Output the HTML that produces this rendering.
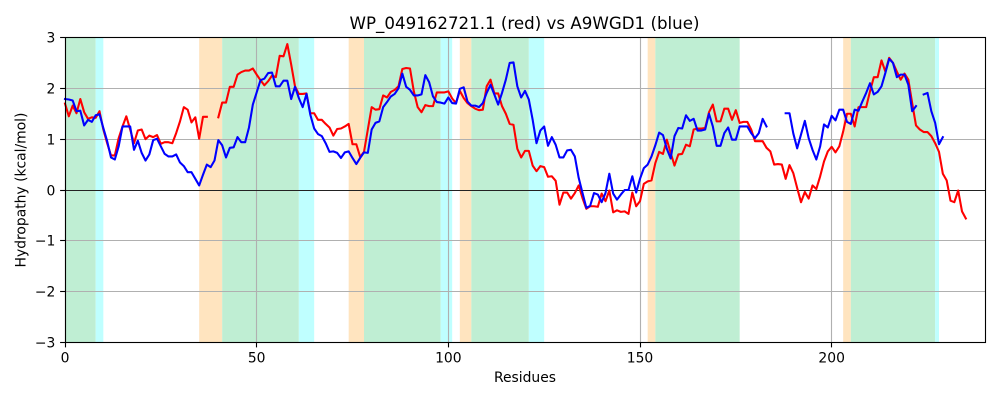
<!DOCTYPE html>
<html>
<head>
<meta charset="utf-8">
<title>Hydropathy chart</title>
<style>
html,body{margin:0;padding:0;background:#fff;}
svg{display:block;}
text{font-family:"DejaVu Sans","Liberation Sans",sans-serif;fill:#000;}
</style>
</head>
<body>
<svg id="chart" xmlns="http://www.w3.org/2000/svg" width="1000" height="400" viewBox="0 0 1000 400">
  <g id="spans"></g>
  <g id="grid"></g>
  <g id="series"></g>
  <g id="axes"></g>
  <text x="524.5" y="29" text-anchor="middle" font-size="16.67">WP_049162721.1 (red) vs A9WGD1 (blue)</text>
  <text x="525" y="382" text-anchor="middle" font-size="13.89">Residues</text>
  <text x="0" y="0" transform="translate(25.5 190) rotate(-90)" text-anchor="middle" font-size="13.89">Hydropathy (kcal/mol)</text>
</svg>
<script>
const xTicks = [0, 50, 100, 150, 200];
const yTicks = [-3, -2, -1, 0, 1, 2, 3];
const xDomain = [0, 240];
const yDomain = [-3, 3];
const orangeSpans = [[35, 41], [74, 78], [103, 106], [152, 154], [203, 205]];
const greenSpans = [[0, 8], [41, 61], [78, 98], [106, 121], [154, 176], [205, 227]];
const cyanSpans = [[8, 10], [61, 65], [98, 101], [121, 125], [227, 228]];
const redValues = [
1.70,1.45,1.66,1.51,1.79,1.53,1.40,1.43,1.42,1.55,
1.19,.92,.68,.68,1.02,1.25,1.45,1.19,.92,1.17,
1.19,1.0,1.07,1.04,1.08,.91,.94,.94,.92,1.12,
1.35,1.63,1.58,1.33,1.43,1.01,1.44,1.44,null,null,
1.43,1.72,1.72,2.03,2.03,2.27,2.32,2.35,2.35,2.39,
2.27,2.16,2.06,2.14,2.25,2.22,2.64,2.63,2.87,2.47,
2.04,1.89,1.89,1.90,1.51,1.51,1.38,1.38,1.30,1.23,
1.07,1.20,1.21,1.25,1.30,.90,.90,.65,.75,1.19,
1.63,1.58,1.59,1.86,1.82,1.93,1.97,2.04,2.38,2.40,
2.39,1.94,1.63,1.53,1.67,1.65,1.65,1.92,1.92,1.92,
1.94,1.80,1.71,1.95,1.81,1.71,1.65,1.60,1.57,1.58,
2.04,2.17,1.90,1.90,1.65,1.50,1.30,1.28,.81,.64,
.77,.77,.48,.37,.47,.45,.26,.27,.18,-.29,
-.05,-.05,-.17,-.06,.09,-.16,-.37,-.32,-.32,-.33,
-.07,-.22,-.01,-.44,-.40,-.43,-.42,-.47,-.05,-.32,
-.22,.12,.17,.19,.53,.75,.71,.99,.73,.48,
.70,.71,.89,.86,1.19,1.21,1.21,1.22,1.53,1.68,
1.35,1.35,1.60,1.60,1.38,1.57,1.32,1.34,1.34,1.19,
.96,.96,.96,.83,.76,.50,.51,.50,.22,.49,
.33,.04,-.24,-.04,-.17,.09,.02,.27,.56,.76,
.85,.74,.86,1.15,1.50,1.50,1.25,1.63,1.63,1.63,
1.94,2.22,2.22,2.55,2.33,2.60,2.50,2.33,2.17,2.29,
2.17,1.71,1.27,1.19,1.14,1.14,1.06,.92,.75,.32,
.19,-.21,-.24,-.01,-.42,-.56];
const blueValues = [
1.79,1.78,1.76,1.55,1.56,1.27,1.38,1.34,1.47,1.49,
1.22,.96,.64,.60,.86,1.25,1.25,1.25,.79,.97,
.73,.58,.70,.98,1.01,.86,.71,.66,.66,.70,
.54,.47,.35,.35,.22,.09,.30,.50,.45,.58,
.98,.88,.64,.83,.84,1.04,.94,.94,1.23,1.68,
1.92,2.16,2.19,2.30,2.31,2.04,2.04,2.15,2.15,1.79,
2.03,1.81,1.63,1.89,1.48,1.21,1.10,1.06,.92,.75,
.76,.73,.63,.74,.76,.63,.51,.63,.74,.73,
1.19,1.32,1.35,1.63,1.73,1.84,1.89,2.0,2.29,2.03,
1.97,1.86,1.86,1.88,2.26,2.12,1.84,1.73,1.72,1.70,
1.82,1.71,1.70,1.99,2.02,1.74,1.66,1.66,1.63,1.71,
1.91,2.07,1.88,1.68,1.91,2.17,2.50,2.51,2.04,1.82,
1.95,1.78,1.38,.92,1.17,1.25,.87,1.04,.89,.64,
.64,.78,.79,.66,.24,-.06,-.35,-.31,-.06,-.09,
-.24,-.06,.32,-.07,-.19,-.09,0,0,.27,-.05,
.22,.43,.50,.66,.88,1.13,1.08,.81,.62,1.06,
1.22,1.21,1.47,1.36,1.40,1.17,1.17,1.19,1.50,1.25,
.87,.87,1.12,1.23,.99,.99,1.25,1.25,1.25,1.12,
1.02,1.12,1.40,1.25,null,null,null,null,1.51,1.51,
1.11,.82,1.09,1.36,1.02,.79,.60,.86,1.29,1.23,
1.46,1.37,1.58,1.58,1.34,1.30,1.58,1.56,1.74,1.91,
2.10,1.88,1.93,2.04,2.30,2.58,2.50,2.22,2.27,2.27,
2.07,1.55,1.65,null,1.88,1.91,1.55,1.32,.90,1.04];

const NS = 'http://www.w3.org/2000/svg';
const plotLeft = 65, plotRight = 985, plotTop = 37.5, plotBottom = 342.5;
function xScale(v) { return plotLeft + (v - xDomain[0]) / (xDomain[1] - xDomain[0]) * (plotRight - plotLeft); }
function yScale(v) { return plotBottom - (v - yDomain[0]) / (yDomain[1] - yDomain[0]) * (plotBottom - plotTop); }
function snap(p) { return Math.floor(p) + 0.5; }
function make(parent, tag, props) {
  const el = document.createElementNS(NS, tag);
  for (const k in props) el.setAttribute(k, props[k]);
  parent.appendChild(el);
  return el;
}
const spansG = document.getElementById('spans');
const gridG = document.getElementById('grid');
const seriesG = document.getElementById('series');
const axesG = document.getElementById('axes');

function drawSpans(list, color, label) {
  list.forEach(function (s) {
    const r = make(spansG, 'rect', {x: xScale(s[0]), y: plotTop, width: xScale(s[1]) - xScale(s[0]), height: plotBottom - plotTop, fill: color});
    
    
  });
}
drawSpans(orangeSpans, '#ffe4bf', 'orange-region');
drawSpans(greenSpans, '#bfeed3', 'green-region');
drawSpans(cyanSpans, '#bfffff', 'cyan-region');

xTicks.forEach(function (t) {
  const px = snap(xScale(t));
  const g = make(gridG, 'line', {x1: px, x2: px, y1: plotTop, y2: plotBottom, stroke: '#b0b0b0', 'stroke-width': 1.11});
  
  
  const m = make(axesG, 'line', {x1: px, x2: px, y1: plotBottom, y2: plotBottom + 4.9, stroke: '#000', 'stroke-width': 1.11});
  
  
  const l = make(axesG, 'text', {x: xScale(t), y: 362.3, 'text-anchor': 'middle', 'font-size': 13.89});
  l.textContent = String(t);
  
  
});
yTicks.forEach(function (t) {
  const py = snap(yScale(t));
  const g = make(gridG, 'line', {x1: plotLeft, x2: plotRight, y1: py, y2: py, stroke: '#b0b0b0', 'stroke-width': 1.11});
  
  
  const m = make(axesG, 'line', {x1: plotLeft - 4.9, x2: plotLeft, y1: py, y2: py, stroke: '#000', 'stroke-width': 1.11});
  
  
  const l = make(axesG, 'text', {x: 55.3, y: py + 4.8, 'text-anchor': 'end', 'font-size': 13.89});
  l.textContent = String(t).replace('-', '\u2212');
  
  
});
const zeroLine = make(gridG, 'line', {x1: plotLeft, x2: plotRight, y1: snap(yScale(0)), y2: snap(yScale(0)), stroke: '#222', 'stroke-width': 1.11});



function linePath(values) {
  let d = '', pen = false;
  values.forEach(function (v, i) {
    if (v === null) { pen = false; return; }
    d += (pen ? 'L' : 'M') + xScale(i).toFixed(2) + ' ' + yScale(v).toFixed(2);
    pen = true;
  });
  return d;
}
const redLine = make(seriesG, 'path', {d: linePath(redValues), fill: 'none', stroke: '#ff0000', 'stroke-width': 2.08, 'stroke-linejoin': 'round', 'stroke-linecap': 'square'});


const blueLine = make(seriesG, 'path', {d: linePath(blueValues), fill: 'none', stroke: '#0000ff', 'stroke-width': 2.08, 'stroke-linejoin': 'round', 'stroke-linecap': 'square'});



const frame = make(axesG, 'rect', {x: snap(plotLeft), y: plotTop, width: plotRight - plotLeft, height: plotBottom - plotTop, fill: 'none', stroke: '#000', 'stroke-width': 1.11});


</script>
</body>
</html>
